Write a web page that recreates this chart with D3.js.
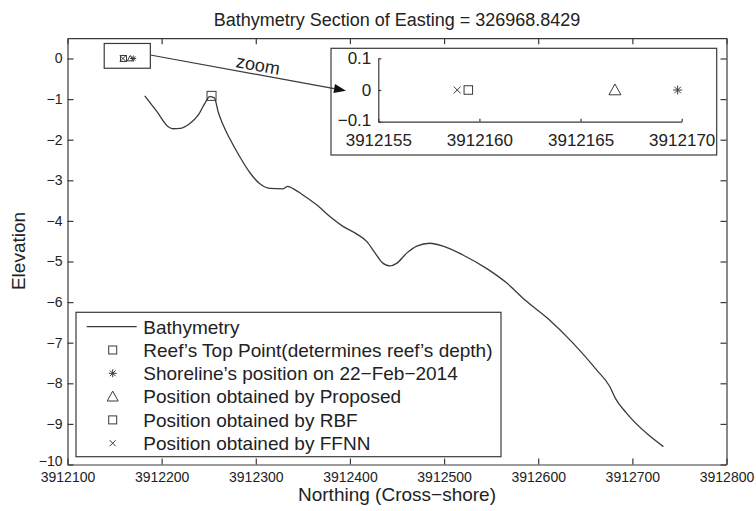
<!DOCTYPE html>
<html><head><meta charset="utf-8">
<script src="https://cdn.jsdelivr.net/npm/d3@7"></script>
<style>body{margin:0;background:#fff}svg{display:block}text{font-family:"Liberation Sans",Arial,sans-serif;fill:#222}</style>
</head><body><svg id="c" width="756" height="511"></svg>
<script>
// ---- data ----
const bathyX = [3912182,3912195,3912207,3912212,3912220,3912230,3912239,3912246,3912251,3912256,3912260,3912265,3912272,3912283,3912294,3912304,3912315,3912329,3912334,3912340,3912350,3912365,3912379,3912393,3912407,3912418,3912427,3912434,3912442,3912450,3912460,3912471,3912485,3912499,3912520,3912545,3912566,3912586,3912612,3912637,3912662,3912676,3912682,3912694,3912717,3912733];
const bathyY = [-0.92,-1.31,-1.68,-1.73,-1.72,-1.60,-1.39,-1.10,-0.94,-0.97,-1.31,-1.62,-1.96,-2.42,-2.82,-3.08,-3.20,-3.21,-3.15,-3.21,-3.36,-3.61,-3.90,-4.14,-4.32,-4.51,-4.80,-5.02,-5.11,-5.04,-4.80,-4.62,-4.55,-4.62,-4.84,-5.17,-5.52,-5.95,-6.44,-7.01,-7.67,-8.08,-8.37,-8.74,-9.27,-9.56];
const reefTop = [3912253, -0.92];
const positionNames = ["Shoreline", "Proposed", "RBF", "FFNN"];
const positionX = [3912169.8, 3912166.7, 3912159.45, 3912158.9];
const positionY = [0, 0, 0, 0];
const positionMarker = ["star", "triangle", "square", "cross"];
const xTicks = [3912100,3912200,3912300,3912400,3912500,3912600,3912700,3912800];
const yTicks = [0,-1,-2,-3,-4,-5,-6,-7,-8,-9,-10];
const insetXTicks = [3912155,3912160,3912165,3912170];
const insetYTicks = [-0.1,0,0.1];
const zoomBoxX = [3912139, 3912188];
const zoomBoxY = [-0.24, 0.37];
const legendLabels = ["Bathymetry","Reef\u2019s Top Point(determines reef\u2019s depth)","Shoreline\u2019s position on 22\u2212Feb\u22122014","Position obtained by Proposed","Position obtained by RBF","Position obtained by FFNN"];
const legendMarkers = ["line","square","star","triangle","square","cross"];
const titleText = "Bathymetry Section of Easting = 326968.8429";

// ---- drawing ----
const ink = "#3a3a3a";
const svg = d3.select("#c");
const x = d3.scaleLinear().domain([3912100,3912800]).range([67.5,726.5]);
const y = d3.scaleLinear().domain([-10,0.5]).range([464.5,38.2]);

function marker(g, type, cx, cy, s) {
  const h = s/2;
  if (type === "square") {
    g.append("rect").attr("x",cx-h).attr("y",cy-h).attr("width",s).attr("height",s)
      .attr("fill","none").attr("stroke",ink).attr("stroke-width",1);
  } else if (type === "triangle") {
    g.append("path").attr("d",`M${cx},${cy-h}L${cx+h},${cy+h*0.8}L${cx-h},${cy+h*0.8}Z`)
      .attr("fill","none").attr("stroke",ink).attr("stroke-width",1);
  } else if (type === "star") {
    const d = h*0.72;
    g.append("path").attr("d",`M${cx-h},${cy}L${cx+h},${cy}M${cx},${cy-h}L${cx},${cy+h}M${cx-d},${cy-d}L${cx+d},${cy+d}M${cx-d},${cy+d}L${cx+d},${cy-d}`)
      .attr("fill","none").attr("stroke",ink).attr("stroke-width",1);
  } else if (type === "cross") {
    g.append("path").attr("d",`M${cx-h},${cy-h}L${cx+h},${cy+h}M${cx-h},${cy+h}L${cx+h},${cy-h}`)
      .attr("fill","none").attr("stroke",ink).attr("stroke-width",1);
  }
}

// axes
function styleAxis(g){
  g.selectAll("path,line").attr("stroke",ink).attr("stroke-width",1.2);
  g.selectAll("text").attr("fill","#222").style("font-family",'"Liberation Sans",Arial,sans-serif');
}
const fmt = d3.format("d");
svg.append("g").attr("transform",`translate(0,${y(-10)})`)
  .call(d3.axisBottom(x).tickValues(xTicks).tickSize(-6).tickSizeOuter(0).tickPadding(8).tickFormat(fmt))
  .call(styleAxis).call(g=>g.selectAll("text").attr("font-size",14));
svg.append("g").attr("transform",`translate(0,${y(0.5)})`)
  .call(d3.axisTop(x).tickValues(xTicks).tickSize(-6).tickSizeOuter(0).tickFormat(""))
  .call(styleAxis);
svg.append("g").attr("transform",`translate(${x.range()[0]},0)`)
  .call(d3.axisLeft(y).tickValues(yTicks).tickSize(-6).tickSizeOuter(0).tickPadding(5).tickFormat(fmt))
  .call(styleAxis)
  .call(g=>g.selectAll("text").attr("font-size",14))
  .call(g=>g.selectAll(".tick").filter(d=>d===-10).select("text").attr("y",-3));
svg.append("g").attr("transform",`translate(${x.range()[1]},0)`)
  .call(d3.axisRight(y).tickValues(yTicks).tickSize(-6).tickSizeOuter(0).tickFormat(""))
  .call(styleAxis);

// bathymetry line
const pts = bathyX.map((v,i)=>[v,bathyY[i]]);
svg.append("path").datum(pts)
  .attr("d", d3.line().x(d=>x(d[0])).y(d=>y(d[1])).curve(d3.curveMonotoneX))
  .attr("fill","none").attr("stroke",ink).attr("stroke-width",1.3);

// reef top marker
marker(svg, "square", x(reefTop[0]), y(reefTop[1]), 9);

// zoom box and markers at real positions
svg.append("rect").attr("x",x(zoomBoxX[0])).attr("y",y(zoomBoxY[1]))
  .attr("width",x(zoomBoxX[1])-x(zoomBoxX[0])).attr("height",y(zoomBoxY[0])-y(zoomBoxY[1]))
  .attr("fill","none").attr("stroke",ink).attr("stroke-width",1.2);
positionX.forEach((v,i)=>marker(svg, positionMarker[i], x(v), y(positionY[i]), 6));

// inset
svg.append("rect").attr("x",331).attr("y",48.3).attr("width",385.7).attr("height",106.7)
  .attr("fill","#fff").attr("stroke",ink).attr("stroke-width",1.2);
const xi = d3.scaleLinear().domain([3912155,3912170]).range([378.3,681.7]);
const yi = d3.scaleLinear().domain([-0.1,0.1]).range([121.7,58.3]);
svg.append("g").attr("transform",`translate(0,${yi(-0.1)})`)
  .call(d3.axisBottom(xi).tickValues(insetXTicks).tickSize(-3).tickSizeOuter(0).tickPadding(12).tickFormat(fmt))
  .call(styleAxis).call(g=>g.selectAll("text").attr("font-size",17));
svg.append("g").attr("transform",`translate(${xi(3912155)},0)`)
  .call(d3.axisLeft(yi).tickValues(insetYTicks).tickSize(-3).tickSizeOuter(0).tickPadding(7)
    .tickFormat(d=>Math.abs(d)<1e-9?"0":d3.format(".1f")(d)))
  .call(styleAxis)
  .call(g=>g.selectAll("text").attr("font-size",17))
  .call(g=>g.selectAll(".tick").filter(d=>d<-0.05).select("text").attr("y",-2));
const insetSize = {star:9, triangle:12, square:8.5, cross:7};
positionX.forEach((v,i)=>marker(svg, positionMarker[i], xi(v), yi(positionY[i]), insetSize[positionMarker[i]]));

// arrow (drawn over the inset)
const ax0 = x(zoomBoxX[1]), ay0 = 55, ax1 = 346, ay1 = 90.7;
const ang = Math.atan2(ay1-ay0, ax1-ax0);
const hl = 12, hw = 4.5;
const bx = ax1 - hl*Math.cos(ang), by = ay1 - hl*Math.sin(ang);
svg.append("line").attr("x1",ax0).attr("y1",ay0).attr("x2",bx).attr("y2",by)
  .attr("stroke",ink).attr("stroke-width",1.2);
svg.append("path").attr("d",`M${ax1},${ay1}L${bx - hw*Math.sin(ang)},${by + hw*Math.cos(ang)}L${bx + hw*Math.sin(ang)},${by - hw*Math.cos(ang)}Z`)
  .attr("fill","#111");
svg.append("text").attr("transform",`translate(257,71) rotate(${ang*180/Math.PI})`)
  .attr("text-anchor","middle").attr("font-size",18).text("zoom");

// legend
const lg = svg.append("g");
lg.append("rect").attr("x",76).attr("y",312.3).attr("width",425).attr("height",144.4)
  .attr("fill","#fff").attr("stroke",ink).attr("stroke-width",1.2);
const legSize = {star:8, triangle:11, square:8, cross:6};
legendLabels.forEach((t,i)=>{
  const ry = 326.7 + i*23.3;
  if (legendMarkers[i]==="line") {
    lg.append("line").attr("x1",86.7).attr("x2",136.7).attr("y1",ry).attr("y2",ry)
      .attr("stroke",ink).attr("stroke-width",1.3);
  } else marker(lg, legendMarkers[i], 112.7, ry, legSize[legendMarkers[i]]);
  lg.append("text").attr("x",143.3).attr("y",ry).attr("dy","0.36em").attr("font-size",19).text(t);
});

// titles
svg.append("text").attr("x",397).attr("y",26).attr("text-anchor","middle").attr("font-size",18).text(titleText);
svg.append("text").attr("x",397).attr("y",501).attr("text-anchor","middle").attr("font-size",19).text("Northing (Cross\u2212shore)");
svg.append("text").attr("transform","translate(25,251) rotate(-90)").attr("text-anchor","middle").attr("font-size",19).text("Elevation");
</script></body></html>
